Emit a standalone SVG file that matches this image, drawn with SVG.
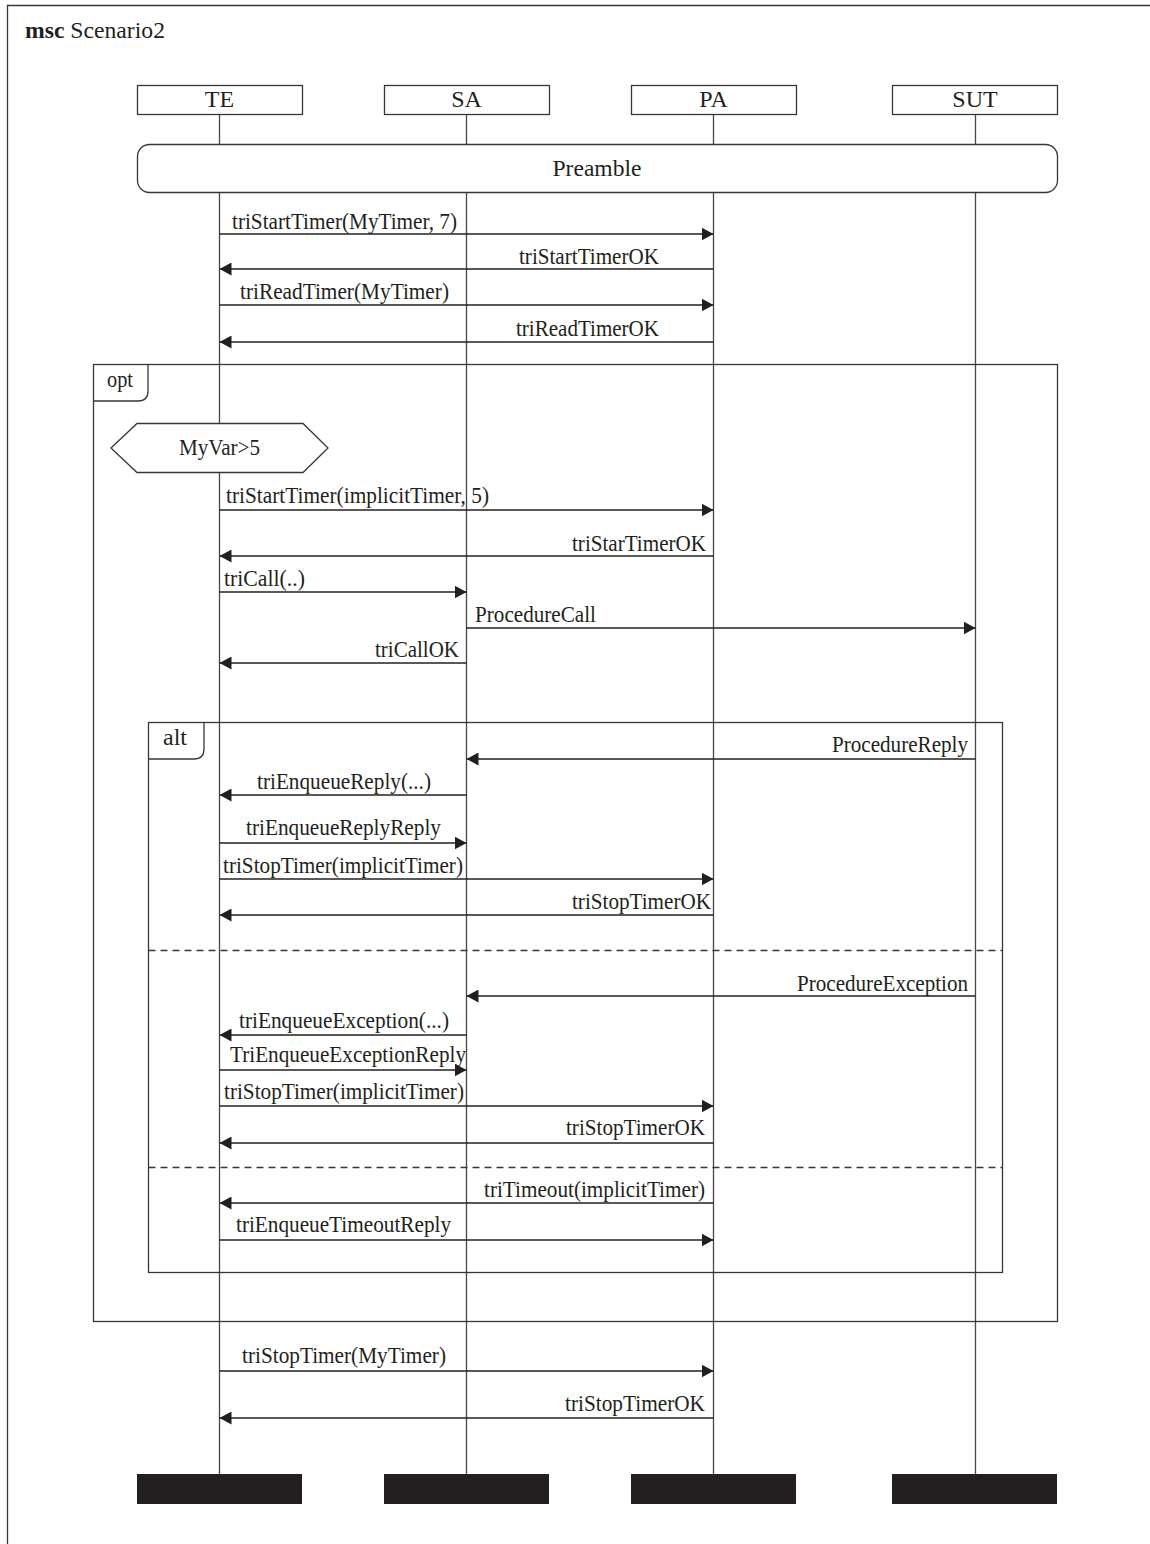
<svg xmlns="http://www.w3.org/2000/svg" width="1150" height="1544" viewBox="0 0 1150 1544">
<style>
  .t { font-family: "Liberation Serif", "Times New Roman", serif; font-size: 24px; fill: #231f20; }
  .h { font-family: "Liberation Serif", "Times New Roman", serif; font-size: 24px; fill: #231f20; }
  .box { fill: #ffffff; stroke: #3a3636; stroke-width: 1.3; }
  .life { stroke: #4a4646; stroke-width: 1.3; fill: none; }
  .msg { stroke: #231f20; stroke-width: 1.4; fill: none; marker-end: url(#ah); }
  .frame { fill: none; stroke: #3a3636; stroke-width: 1.3; }
  .dash { stroke: #3a3636; stroke-width: 1.3; stroke-dasharray: 7 5; fill: none; }
  .end { fill: #231f20; }
</style>
<defs>
  <marker id="ah" markerUnits="userSpaceOnUse" markerWidth="12" markerHeight="13" refX="12" refY="6.5" orient="auto">
    <path d="M0,0 L12,6.5 L0,13 z" fill="#231f20"/>
  </marker>
</defs>
<rect width="1150" height="1544" fill="#ffffff"/>
<path class="frame" d="M7.5,1544 V5.5 H1150"/>
<text x="25" y="38" class="h" textLength="140" lengthAdjust="spacingAndGlyphs"><tspan font-weight="bold">msc</tspan> Scenario2</text>

<g id="lifelines">
  <line class="life" x1="219.5" y1="114" x2="219.5" y2="1474"/>
  <line class="life" x1="466.5" y1="114" x2="466.5" y2="1474"/>
  <line class="life" x1="713.5" y1="114" x2="713.5" y2="1474"/>
  <line class="life" x1="975.5" y1="114" x2="975.5" y2="1474"/>
</g>

<g id="TE"><rect class="box" x="137.5" y="85.5" width="165" height="29"/><text class="h" x="219.5" y="107" text-anchor="middle">TE</text><rect class="end" x="137" y="1474" width="165" height="30"/></g>
<g id="SA"><rect class="box" x="384.5" y="85.5" width="165" height="29"/><text class="h" x="466.5" y="107" text-anchor="middle">SA</text><rect class="end" x="384" y="1474" width="165" height="30"/></g>
<g id="PA"><rect class="box" x="631.5" y="85.5" width="165" height="29"/><text class="h" x="713.5" y="107" text-anchor="middle">PA</text><rect class="end" x="631" y="1474" width="165" height="30"/></g>
<g id="SUT"><rect class="box" x="892.5" y="85.5" width="165" height="29"/><text class="h" x="975" y="107" text-anchor="middle">SUT</text><rect class="end" x="892" y="1474" width="165" height="30"/></g>

<g id="Preamble">
  <rect class="box" x="137.5" y="144.5" width="920" height="48" rx="12" ry="12"/>
  <text class="h" x="597" y="176" text-anchor="middle" textLength="89" lengthAdjust="spacingAndGlyphs">Preamble</text>
</g>

<g id="opt">
  <rect class="frame" x="93.5" y="364.5" width="964" height="957"/>
  <path class="frame" d="M93.5,401 H138 Q148,401 148,391 V364.5"/>
  <text class="t" x="107" y="387" textLength="26" lengthAdjust="spacingAndGlyphs">opt</text>
</g>

<g id="cond">
  <polygon class="box" points="111,448 137,423.5 303,423.5 328,448 303,472.5 137,472.5"/>
  <text class="t" x="179" y="455" textLength="81" lengthAdjust="spacingAndGlyphs">MyVar&gt;5</text>
</g>

<g id="alt">
  <rect class="frame" x="148.5" y="722.5" width="854" height="550"/>
  <path class="frame" d="M148.5,759 H194 Q204,759 204,749 V722.5"/>
  <text class="t" x="163" y="745" textLength="24" lengthAdjust="spacingAndGlyphs">alt</text>
  <line class="dash" x1="148.5" y1="950.5" x2="1002.5" y2="950.5"/>
  <line class="dash" x1="148.5" y1="1167.5" x2="1002.5" y2="1167.5"/>
</g>

<g id="connectors">
  <line class="msg" x1="219.5" y1="234" x2="713.5" y2="234"/>
  <line class="msg" x1="713.5" y1="269" x2="219.5" y2="269"/>
  <line class="msg" x1="219.5" y1="305" x2="713.5" y2="305"/>
  <line class="msg" x1="713.5" y1="342" x2="219.5" y2="342"/>
  <line class="msg" x1="219.5" y1="510" x2="713.5" y2="510"/>
  <line class="msg" x1="713.5" y1="556" x2="219.5" y2="556"/>
  <line class="msg" x1="219.5" y1="592" x2="466.5" y2="592"/>
  <line class="msg" x1="466.5" y1="628" x2="975.5" y2="628"/>
  <line class="msg" x1="466.5" y1="663" x2="219.5" y2="663"/>
  <line class="msg" x1="975.5" y1="759" x2="466.5" y2="759"/>
  <line class="msg" x1="466.5" y1="795" x2="219.5" y2="795"/>
  <line class="msg" x1="219.5" y1="843" x2="466.5" y2="843"/>
  <line class="msg" x1="219.5" y1="879" x2="713.5" y2="879"/>
  <line class="msg" x1="713.5" y1="915" x2="219.5" y2="915"/>
  <line class="msg" x1="975.5" y1="996" x2="466.5" y2="996"/>
  <line class="msg" x1="466.5" y1="1035" x2="219.5" y2="1035"/>
  <line class="msg" x1="219.5" y1="1070" x2="466.5" y2="1070"/>
  <line class="msg" x1="219.5" y1="1106" x2="713.5" y2="1106"/>
  <line class="msg" x1="713.5" y1="1143" x2="219.5" y2="1143"/>
  <line class="msg" x1="713.5" y1="1203" x2="219.5" y2="1203"/>
  <line class="msg" x1="219.5" y1="1240" x2="713.5" y2="1240"/>
  <line class="msg" x1="219.5" y1="1371" x2="713.5" y2="1371"/>
  <line class="msg" x1="713.5" y1="1418" x2="219.5" y2="1418"/>
</g>

<g id="labels">
  <text class="t" x="232" y="229" textLength="225" lengthAdjust="spacingAndGlyphs">triStartTimer(MyTimer, 7)</text>
  <text class="t" x="519" y="264" textLength="140" lengthAdjust="spacingAndGlyphs">triStartTimerOK</text>
  <text class="t" x="240" y="299" textLength="209" lengthAdjust="spacingAndGlyphs">triReadTimer(MyTimer)</text>
  <text class="t" x="516" y="336" textLength="143" lengthAdjust="spacingAndGlyphs">triReadTimerOK</text>
  <text class="t" x="226" y="503" textLength="263" lengthAdjust="spacingAndGlyphs">triStartTimer(implicitTimer, 5)</text>
  <text class="t" x="572" y="551" textLength="134" lengthAdjust="spacingAndGlyphs">triStarTimerOK</text>
  <text class="t" x="224" y="586" textLength="81" lengthAdjust="spacingAndGlyphs">triCall(..)</text>
  <text class="t" x="475" y="622" textLength="121" lengthAdjust="spacingAndGlyphs">ProcedureCall</text>
  <text class="t" x="375" y="657" textLength="84" lengthAdjust="spacingAndGlyphs">triCallOK</text>
  <text class="t" x="832" y="752" textLength="136" lengthAdjust="spacingAndGlyphs">ProcedureReply</text>
  <text class="t" x="257" y="789" textLength="174" lengthAdjust="spacingAndGlyphs">triEnqueueReply(...)</text>
  <text class="t" x="246" y="835" textLength="195" lengthAdjust="spacingAndGlyphs">triEnqueueReplyReply</text>
  <text class="t" x="223" y="873" textLength="240" lengthAdjust="spacingAndGlyphs">triStopTimer(implicitTimer)</text>
  <text class="t" x="572" y="909" textLength="139" lengthAdjust="spacingAndGlyphs">triStopTimerOK</text>
  <text class="t" x="797" y="991" textLength="171" lengthAdjust="spacingAndGlyphs">ProcedureException</text>
  <text class="t" x="239" y="1028" textLength="210" lengthAdjust="spacingAndGlyphs">triEnqueueException(...)</text>
  <text class="t" x="230" y="1062" textLength="236" lengthAdjust="spacingAndGlyphs">TriEnqueueExceptionReply</text>
  <text class="t" x="224" y="1099" textLength="240" lengthAdjust="spacingAndGlyphs">triStopTimer(implicitTimer)</text>
  <text class="t" x="566" y="1135" textLength="139" lengthAdjust="spacingAndGlyphs">triStopTimerOK</text>
  <text class="t" x="484" y="1197" textLength="221" lengthAdjust="spacingAndGlyphs">triTimeout(implicitTimer)</text>
  <text class="t" x="236" y="1232" textLength="215" lengthAdjust="spacingAndGlyphs">triEnqueueTimeoutReply</text>
  <text class="t" x="242" y="1363" textLength="204" lengthAdjust="spacingAndGlyphs">triStopTimer(MyTimer)</text>
  <text class="t" x="565" y="1411" textLength="140" lengthAdjust="spacingAndGlyphs">triStopTimerOK</text>
</g>
</svg>
